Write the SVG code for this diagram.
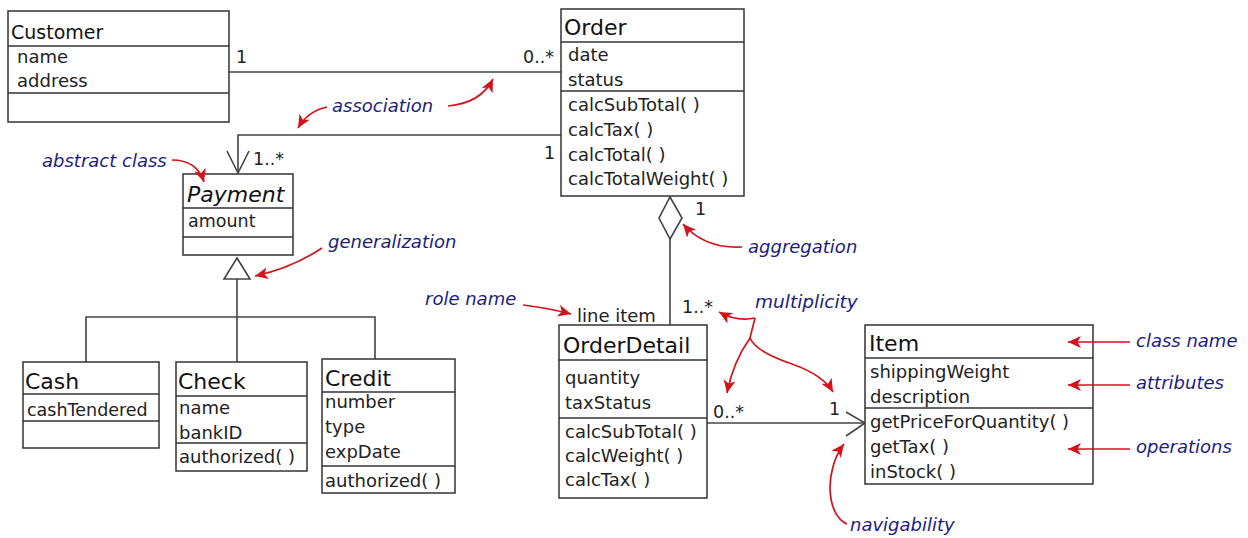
<svg xmlns="http://www.w3.org/2000/svg" width="1248" height="538" viewBox="0 0 1248 538">
<style>
.box{fill:#fff;stroke:#333;stroke-width:1.5}
.sep{stroke:#333;stroke-width:1.5}
.title{font-family:"DejaVu Sans",Verdana,sans-serif;font-size:22px;fill:#111}
.mem{font-family:"DejaVu Sans",Verdana,sans-serif;font-size:18px;fill:#222}
.lbl{font-family:"DejaVu Sans",Verdana,sans-serif;font-size:17.5px;fill:#222}
.note{font-family:"DejaVu Sans",Verdana,sans-serif;font-style:italic;font-size:18px;fill:#1c1c80}
.conn{fill:none;stroke:#444;stroke-width:1.6}
.red{fill:none;stroke:#d3121c;stroke-width:1.7}
</style>
<defs>
<marker id="ra" markerUnits="userSpaceOnUse" markerWidth="14" markerHeight="12" refX="13" refY="6" orient="auto">
<path d="M0,0 L13,6 L0,12 L3.5,6 z" fill="#d3121c"/>
</marker>
</defs>

<g id="connectors">
<line class="conn" x1="229" y1="72" x2="561" y2="72"/>
<polyline class="conn" points="561,135 238,135 238,173"/>
<polyline class="conn" points="227,151 238,173 249,151"/>
<line class="conn" x1="237" y1="279" x2="237" y2="317"/>
<polyline class="conn" points="86,362 86,317 375,317 375,359"/>
<line class="conn" x1="237" y1="317" x2="237" y2="362"/>
<polygon class="conn" points="237,258 250,279 224,279" style="fill:#fff"/>
<line class="conn" x1="670" y1="239" x2="670" y2="325"/>
<polygon class="conn" points="670,197 682,218 670,239 659,218" style="fill:#fff"/>
<line class="conn" x1="707" y1="423" x2="865" y2="423"/>
<polyline class="conn" points="846,412 865,423 846,436"/>
<text class="lbl" x="236" y="63">1</text>
<text class="lbl" x="523" y="63">0..*</text>
<text class="lbl" x="253" y="165">1..*</text>
<text class="lbl" x="544" y="159">1</text>
<text class="lbl" x="695" y="215">1</text>
<text class="lbl" x="577" y="322" style="font-size:18px">line item</text>
<text class="lbl" x="682" y="313">1..*</text>
<text class="lbl" x="713" y="418">0..*</text>
<text class="lbl" x="829" y="415">1</text>
</g>

<g id="Customer">
<rect class="box" x="8" y="11" width="221" height="111"/>
<line class="sep" x1="8" y1="46" x2="229" y2="46"/>
<line class="sep" x1="8" y1="93" x2="229" y2="93"/>
<text class="title" x="11" y="39" style="font-size:19px">Customer</text>
<text class="mem" x="17" y="63">name</text>
<text class="mem" x="17" y="87">address</text>
</g>

<g id="Order">
<rect class="box" x="561" y="9" width="183" height="187"/>
<line class="sep" x1="561" y1="42" x2="744" y2="42"/>
<line class="sep" x1="561" y1="91" x2="744" y2="91"/>
<text class="title" x="564" y="35">Order</text>
<text class="mem" x="568" y="61">date</text>
<text class="mem" x="568" y="86">status</text>
<text class="mem" x="568" y="111">calcSubTotal( )</text>
<text class="mem" x="568" y="136">calcTax( )</text>
<text class="mem" x="568" y="161">calcTotal( )</text>
<text class="mem" x="568" y="185">calcTotalWeight( )</text>
</g>

<g id="Payment">
<rect class="box" x="183" y="174" width="110" height="81"/>
<line class="sep" x1="183" y1="208" x2="293" y2="208"/>
<line class="sep" x1="183" y1="237" x2="293" y2="237"/>
<text class="title" x="187" y="202" style="font-style:italic">Payment</text>
<text class="mem" x="188" y="227" style="font-size:17.5px">amount</text>
</g>

<g id="Cash">
<rect class="box" x="23" y="362" width="136" height="86"/>
<line class="sep" x1="23" y1="394" x2="159" y2="394"/>
<line class="sep" x1="23" y1="421" x2="159" y2="421"/>
<text class="title" x="25" y="389">Cash</text>
<text class="mem" x="27" y="416" style="font-size:17.5px">cashTendered</text>
</g>

<g id="Check">
<rect class="box" x="176" y="362" width="131" height="109"/>
<line class="sep" x1="176" y1="396" x2="307" y2="396"/>
<line class="sep" x1="176" y1="443" x2="307" y2="443"/>
<text class="title" x="178" y="389">Check</text>
<text class="mem" x="179" y="414">name</text>
<text class="mem" x="179" y="439">bankID</text>
<text class="mem" x="179" y="463">authorized( )</text>
</g>

<g id="Credit">
<rect class="box" x="322" y="359" width="133" height="134"/>
<line class="sep" x1="322" y1="392" x2="455" y2="392"/>
<line class="sep" x1="322" y1="466" x2="455" y2="466"/>
<text class="title" x="325" y="386">Credit</text>
<text class="mem" x="325" y="408">number</text>
<text class="mem" x="325" y="433">type</text>
<text class="mem" x="325" y="458">expDate</text>
<text class="mem" x="325" y="487">authorized( )</text>
</g>

<g id="OrderDetail">
<rect class="box" x="559" y="325" width="148" height="173"/>
<line class="sep" x1="559" y1="360" x2="707" y2="360"/>
<line class="sep" x1="559" y1="418" x2="707" y2="418"/>
<text class="title" x="563" y="353">OrderDetail</text>
<text class="mem" x="565" y="384">quantity</text>
<text class="mem" x="565" y="409">taxStatus</text>
<text class="mem" x="565" y="438">calcSubTotal( )</text>
<text class="mem" x="565" y="462">calcWeight( )</text>
<text class="mem" x="565" y="486">calcTax( )</text>
</g>

<g id="Item">
<rect class="box" x="865" y="325" width="228" height="159"/>
<line class="sep" x1="865" y1="358" x2="1093" y2="358"/>
<line class="sep" x1="865" y1="408" x2="1093" y2="408"/>
<text class="title" x="869" y="351">Item</text>
<text class="mem" x="870" y="378">shippingWeight</text>
<text class="mem" x="870" y="403">description</text>
<text class="mem" x="870" y="428">getPriceForQuantity( )</text>
<text class="mem" x="870" y="453">getTax( )</text>
<text class="mem" x="870" y="478">inStock( )</text>
</g>

<g id="annotations">
<text class="note" x="332" y="112">association</text>
<path class="red" d="M327 107 Q308 111 298 128" marker-end="url(#ra)"/>
<path class="red" d="M448 106 Q481 103 493 79" marker-end="url(#ra)"/>
<text class="note" x="42" y="167">abstract class</text>
<path class="red" d="M172 160 Q197 160 204 182" marker-end="url(#ra)"/>
<text class="note" x="328" y="248">generalization</text>
<path class="red" d="M322 248 Q292 268 255 276" marker-end="url(#ra)"/>
<text class="note" x="748" y="253">aggregation</text>
<path class="red" d="M742 247 Q705 249 683 224" marker-end="url(#ra)"/>
<text class="note" x="425" y="305">role name</text>
<path class="red" d="M523 305 Q548 308 571 314" marker-end="url(#ra)"/>
<text class="note" x="755" y="308" style="font-size:18.5px">multiplicity</text>
<path class="red" d="M755 318 Q737 322 719 312" marker-end="url(#ra)"/>
<path class="red" d="M755 318 L750 338 Q733 362 727 393" marker-end="url(#ra)"/>
<path class="red" d="M750 338 Q756 352 792 364 Q823 375 833 392" marker-end="url(#ra)"/>
<text class="note" x="1136" y="347">class name</text>
<path class="red" d="M1130 342 L1068 342" marker-end="url(#ra)"/>
<text class="note" x="1136" y="389">attributes</text>
<path class="red" d="M1130 385 L1068 385" marker-end="url(#ra)"/>
<text class="note" x="1136" y="453">operations</text>
<path class="red" d="M1130 449 L1068 449" marker-end="url(#ra)"/>
<text class="note" x="850" y="531">navigability</text>
<path class="red" d="M847 524 C826 515 824 470 844 444" marker-end="url(#ra)"/>
</g>
</svg>
